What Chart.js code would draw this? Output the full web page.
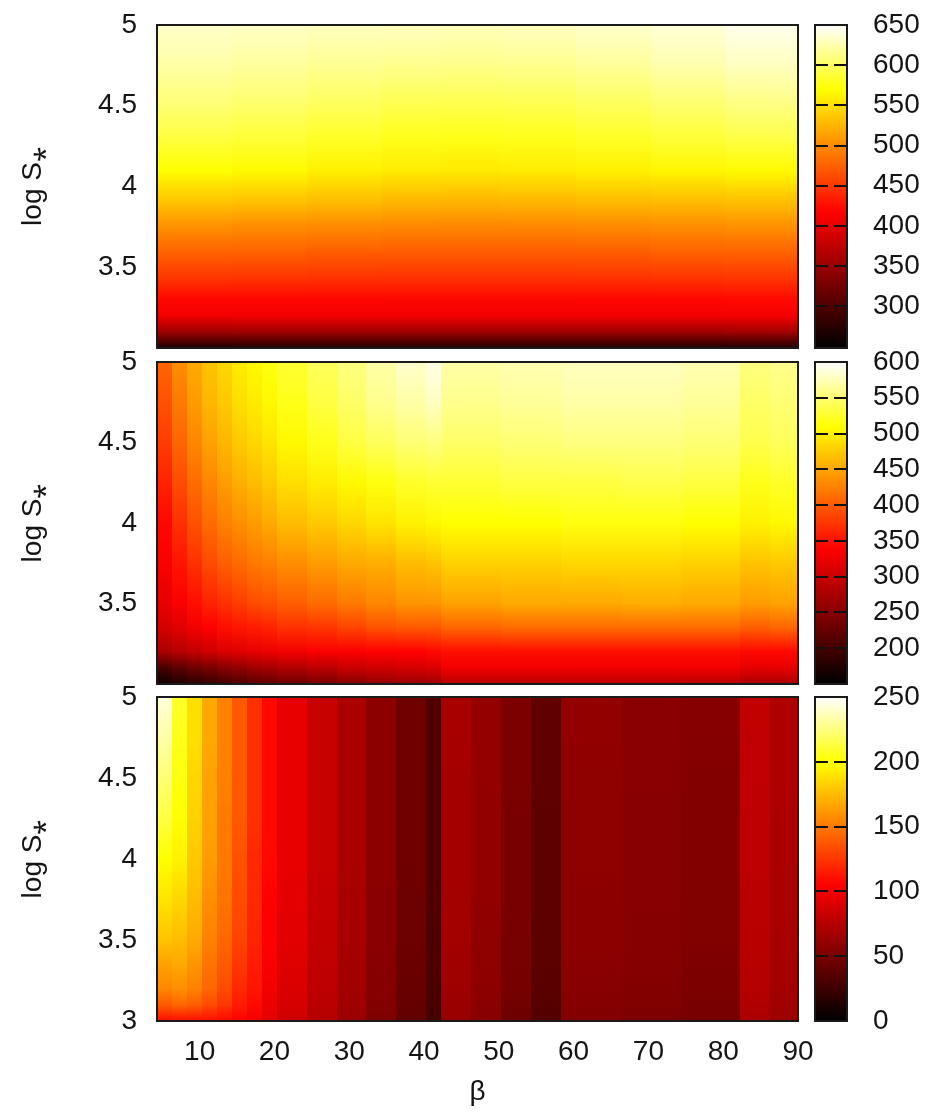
<!DOCTYPE html>
<html>
<head>
<meta charset="utf-8">
<script src="https://cdn.jsdelivr.net/npm/chart.js@4"></script>
<style>
  body { margin: 0; background: #fff; }
  #wrap { position: relative; width: 931px; height: 1116px; }
  .panel { position: absolute; left: 0; }
</style>
</head>
<body>
<div id="wrap">
  <div class="panel" style="top:0px"><canvas id="topChart" width="931" height="368"></canvas></div>
  <div class="panel" style="top:337px"><canvas id="midChart" width="931" height="367"></canvas></div>
  <div class="panel" style="top:672px"><canvas id="botChart" width="931" height="444"></canvas></div>
</div>
<script>
// shared axes
const betaMin = 4.3;
const betaMax = 90;
const betaTicks = [10, 20, 30, 40, 50, 60, 70, 80, 90];
const logSTicks = [3.5, 4, 4.5, 5];
const logSTicksBottom = [3, 3.5, 4, 4.5, 5];

// top panel: rows are log S* samples, columns are beta bins
const topBetaEdges = [4.3, 14.3, 24.3, 34.3, 42.3, 50.3, 60.3, 70.3, 80.3, 90];
const topLogS = [3.0, 3.1, 3.2, 3.3, 3.45, 3.6, 3.75, 3.9, 4.1, 4.3, 4.5, 4.75, 5.0];
const topValues = [
  [268, 268, 268, 268, 268, 268, 268, 268, 270],
  [352, 353, 353, 353, 353, 353, 353, 353, 355],
  [408, 409, 409, 409, 409, 409, 409, 409, 410],
  [421, 421, 421, 421, 421, 421, 421, 421, 422],
  [452, 451, 450, 449, 449, 449, 450, 451, 452],
  [477, 476, 474, 473, 473, 473, 474, 476, 477],
  [503, 501, 499, 497, 497, 497, 499, 501, 503],
  [533, 531, 528, 525, 524, 525, 527, 528, 530],
  [570, 567, 562, 558, 557, 558, 561, 564, 567],
  [590, 587, 582, 578, 577, 578, 582, 587, 592],
  [606, 603, 598, 594, 593, 594, 598, 604, 610],
  [622, 619, 616, 614, 613, 614, 618, 624, 630],
  [634, 632, 630, 630, 629, 630, 634, 638, 644]
];
const topCbRange = [248, 650];
const topCbTicks = [300, 350, 400, 450, 500, 550, 600, 650];

// middle panel
const midBetaEdges = [4.3, 6.3, 8.3, 10.3, 12.3, 14.3, 16.3, 18.3, 20.3, 24.3, 28.3, 32.3, 36.3, 40.3, 42.3, 50.3, 58.3, 66.3, 74.3, 82.3, 86.3, 90];
const midLogS = [3.0, 3.1, 3.2, 3.35, 3.5, 3.75, 4.0, 4.25, 4.5, 4.75, 5.0];
const midValues = [
  [164, 173, 182, 191, 200, 209, 218, 222, 231, 240, 249, 258, 263, 267, 285, 285, 290, 290, 285, 276, 276],
  [204, 218, 231, 240, 249, 258, 267, 272, 281, 290, 299, 303, 308, 312, 330, 330, 330, 330, 330, 321, 321],
  [276, 285, 294, 303, 312, 317, 321, 326, 330, 335, 335, 339, 339, 344, 348, 348, 348, 348, 348, 344, 344],
  [308, 317, 330, 339, 348, 353, 357, 362, 371, 375, 384, 393, 398, 398, 407, 411, 411, 411, 411, 402, 407],
  [321, 335, 348, 362, 371, 380, 389, 393, 402, 411, 420, 429, 438, 438, 447, 452, 452, 456, 452, 443, 447],
  [335, 353, 371, 389, 402, 411, 420, 425, 434, 443, 452, 456, 465, 470, 479, 479, 483, 483, 479, 470, 474],
  [344, 371, 393, 411, 425, 434, 443, 452, 465, 474, 483, 492, 501, 506, 510, 510, 515, 515, 510, 501, 506],
  [362, 389, 411, 429, 443, 456, 465, 474, 488, 497, 506, 515, 524, 528, 528, 533, 533, 537, 533, 519, 524],
  [380, 407, 429, 447, 461, 474, 483, 492, 506, 519, 533, 542, 551, 555, 546, 551, 555, 555, 551, 537, 542],
  [393, 420, 443, 461, 474, 488, 497, 506, 519, 533, 546, 560, 569, 578, 560, 564, 569, 569, 564, 546, 551],
  [407, 434, 452, 470, 483, 497, 506, 515, 528, 542, 555, 569, 582, 591, 569, 573, 578, 578, 573, 555, 560]
];
const midCbRange = [150, 600];
const midCbTicks = [200, 250, 300, 350, 400, 450, 500, 550, 600];

// bottom panel
const botBetaEdges = [4.3, 6.3, 8.3, 10.3, 12.3, 14.3, 16.3, 18.3, 20.3, 24.3, 28.3, 32.3, 36.3, 40.3, 42.3, 46.3, 50.3, 54.3, 58.3, 66.3, 74.3, 82.3, 86.3, 90];
const botLogS = [3.0, 3.1, 3.2, 3.35, 3.5, 3.75, 4.0, 4.25, 4.5, 4.75, 5.0];
const botValues = [
  [110, 110, 110, 110, 108, 105, 100, 93, 85, 74, 63, 52, 40, 28, 62, 55, 45, 34, 53, 51, 48, 70, 64],
  [138, 143, 140, 133, 125, 115, 108, 98, 88, 77, 66, 54, 42, 30, 64, 57, 47, 36, 55, 53, 50, 72, 66],
  [155, 158, 153, 143, 133, 120, 113, 100, 90, 78, 67, 55, 43, 31, 65, 58, 48, 37, 56, 54, 51, 74, 67],
  [165, 168, 160, 148, 138, 125, 115, 103, 92, 79, 68, 56, 44, 32, 66, 59, 49, 38, 57, 55, 52, 75, 68],
  [178, 175, 168, 153, 143, 130, 118, 105, 93, 80, 69, 57, 45, 32, 67, 59, 49, 38, 58, 55, 53, 76, 69],
  [190, 185, 175, 158, 148, 133, 120, 105, 94, 81, 69, 57, 45, 33, 67, 60, 50, 39, 58, 56, 53, 77, 70],
  [200, 195, 180, 163, 150, 135, 120, 108, 95, 82, 70, 58, 46, 33, 68, 60, 50, 39, 59, 56, 54, 78, 71],
  [213, 200, 183, 165, 150, 138, 123, 108, 95, 82, 70, 58, 46, 33, 68, 60, 50, 39, 59, 56, 54, 78, 71],
  [223, 203, 185, 165, 153, 138, 123, 108, 95, 82, 70, 58, 46, 33, 68, 61, 51, 40, 59, 57, 54, 79, 72],
  [233, 205, 188, 168, 153, 138, 123, 108, 95, 82, 70, 58, 46, 33, 69, 61, 51, 40, 60, 57, 55, 79, 72],
  [243, 208, 188, 168, 153, 138, 123, 108, 95, 82, 70, 58, 46, 33, 69, 61, 51, 40, 60, 57, 55, 80, 72]
];
const botCbRange = [0, 250];
const botCbTicks = [0, 50, 100, 150, 200, 250];

const textColor = "#151515";
const fontFamily = "'Liberation Sans', Arial, sans-serif";

// black -> red -> yellow -> white
function heatColor(t) {
  t = Math.max(0, Math.min(1, t));
  const r = Math.min(1, t / 0.42);
  const g = Math.max(0, Math.min(1, (t - 0.42) / 0.38));
  const b = Math.max(0, Math.min(1, (t - 0.8) / 0.2));
  return "rgb(" + Math.round(r * 255) + "," + Math.round(g * 255) + "," + Math.round(b * 255) + ")";
}

const heatmapPlugin = {
  id: "heatmap",
  beforeDatasetsDraw(chart, args, opts) {
    const { ctx, chartArea } = chart;
    const xs = chart.scales.x;
    const ys = chart.scales.y;
    const span = opts.max - opts.min;
    const yTop = ys.getPixelForValue(opts.rows[opts.rows.length - 1]);
    const yBot = ys.getPixelForValue(opts.rows[0]);

    ctx.save();
    ctx.beginPath();
    ctx.rect(chartArea.left, chartArea.top, chartArea.width, chartArea.height);
    ctx.clip();
    for (let c = 0; c < opts.edges.length - 1; c++) {
      const x0 = Math.round(xs.getPixelForValue(opts.edges[c]));
      const x1 = Math.round(xs.getPixelForValue(opts.edges[c + 1]));
      const grad = ctx.createLinearGradient(0, yBot, 0, yTop);
      opts.rows.forEach((s, r) => {
        const pos = (ys.getPixelForValue(s) - yBot) / (yTop - yBot);
        grad.addColorStop(pos, heatColor((opts.values[r][c] - opts.min) / span));
      });
      ctx.fillStyle = grad;
      ctx.fillRect(x0, yTop, x1 - x0 + 1, yBot - yTop);
    }
    ctx.restore();
  },
  afterDraw(chart, args, opts) {
    const { ctx, chartArea } = chart;
    const cb = chart.scales.cb;
    const barLeft = cb.left + 17;
    const barWidth = 32;
    const yT = cb.getPixelForValue(opts.max);
    const yB = cb.getPixelForValue(opts.min);

    ctx.save();
    const grad = ctx.createLinearGradient(0, yB, 0, yT);
    for (let i = 0; i <= 60; i++) {
      grad.addColorStop(i / 60, heatColor(i / 60));
    }
    ctx.fillStyle = grad;
    ctx.fillRect(barLeft, yT, barWidth, yB - yT);

    // colorbar tic marks, drawn in from both sides
    ctx.strokeStyle = "#111";
    ctx.lineWidth = 2;
    ctx.beginPath();
    cb.ticks.forEach((t) => {
      const y = Math.round(cb.getPixelForValue(t.value));
      ctx.moveTo(barLeft, y);
      ctx.lineTo(barLeft + 13, y);
      ctx.moveTo(barLeft + barWidth - 13, y);
      ctx.lineTo(barLeft + barWidth, y);
    });
    ctx.stroke();

    ctx.strokeStyle = "#1a1a1a";
    ctx.lineWidth = 2;
    ctx.strokeRect(barLeft, yT, barWidth, yB - yT);
    ctx.strokeRect(chartArea.left, chartArea.top, chartArea.width, chartArea.height);
    ctx.restore();
  }
};

function makePanel(canvasId, panel) {
  const font = { family: fontFamily, size: 28 };
  return new Chart(document.getElementById(canvasId), {
    type: "scatter",
    data: { datasets: [] },
    options: {
      responsive: false,
      animation: false,
      devicePixelRatio: 1,
      layout: {
        padding: { top: 25, bottom: panel.showX ? 0 : 20, left: 0, right: 0 }
      },
      plugins: {
        legend: { display: false },
        tooltip: { enabled: false },
        heatmap: {
          edges: panel.edges,
          rows: panel.rows,
          values: panel.values,
          min: panel.cbRange[0],
          max: panel.cbRange[1]
        }
      },
      scales: {
        x: {
          type: "linear",
          min: betaMin,
          max: betaMax,
          display: panel.showX,
          afterBuildTicks: (scale) => {
            scale.ticks = betaTicks.map((v) => ({ value: v }));
          },
          afterFit: (scale) => {
            scale.height = panel.showX ? 95 : 0;
          },
          // tickLength (with hidden grid) shifts the labels without adding label padding
          grid: { display: false, drawTicks: true, tickLength: 14 },
          border: { display: false },
          ticks: { font: font, color: textColor, padding: 0, maxRotation: 0, autoSkip: false },
          title: {
            display: true,
            text: "β",
            font: font,
            color: textColor,
            padding: { top: 0, bottom: 7 }
          }
        },
        y: {
          type: "linear",
          position: "left",
          min: 3,
          max: 5,
          afterBuildTicks: (scale) => {
            scale.ticks = panel.yTicks.map((v) => ({ value: v }));
          },
          afterFit: (scale) => {
            scale.width = 157;
          },
          grid: { display: false, drawTicks: true, tickLength: 20 },
          border: { display: false },
          ticks: { font: font, color: textColor, padding: 0, callback: (v) => String(v) },
          title: {
            display: true,
            text: "log S⁎",
            font: font,
            color: textColor,
            padding: { top: 16, bottom: 0 }
          }
        },
        cb: {
          type: "linear",
          position: "right",
          min: panel.cbRange[0],
          max: panel.cbRange[1],
          afterBuildTicks: (scale) => {
            scale.ticks = panel.cbTicks.map((v) => ({ value: v }));
          },
          afterFit: (scale) => {
            scale.width = 133;
          },
          grid: { display: false, drawTicks: true, tickLength: 75 },
          border: { display: false },
          ticks: { font: font, color: textColor, padding: 0, callback: (v) => String(v) }
        }
      }
    },
    plugins: [heatmapPlugin]
  });
}

makePanel("topChart", {
  edges: topBetaEdges, rows: topLogS, values: topValues,
  cbRange: topCbRange, cbTicks: topCbTicks, yTicks: logSTicks, showX: false
});
makePanel("midChart", {
  edges: midBetaEdges, rows: midLogS, values: midValues,
  cbRange: midCbRange, cbTicks: midCbTicks, yTicks: logSTicks, showX: false
});
makePanel("botChart", {
  edges: botBetaEdges, rows: botLogS, values: botValues,
  cbRange: botCbRange, cbTicks: botCbTicks, yTicks: logSTicksBottom, showX: true
});
</script>
</body>
</html>
